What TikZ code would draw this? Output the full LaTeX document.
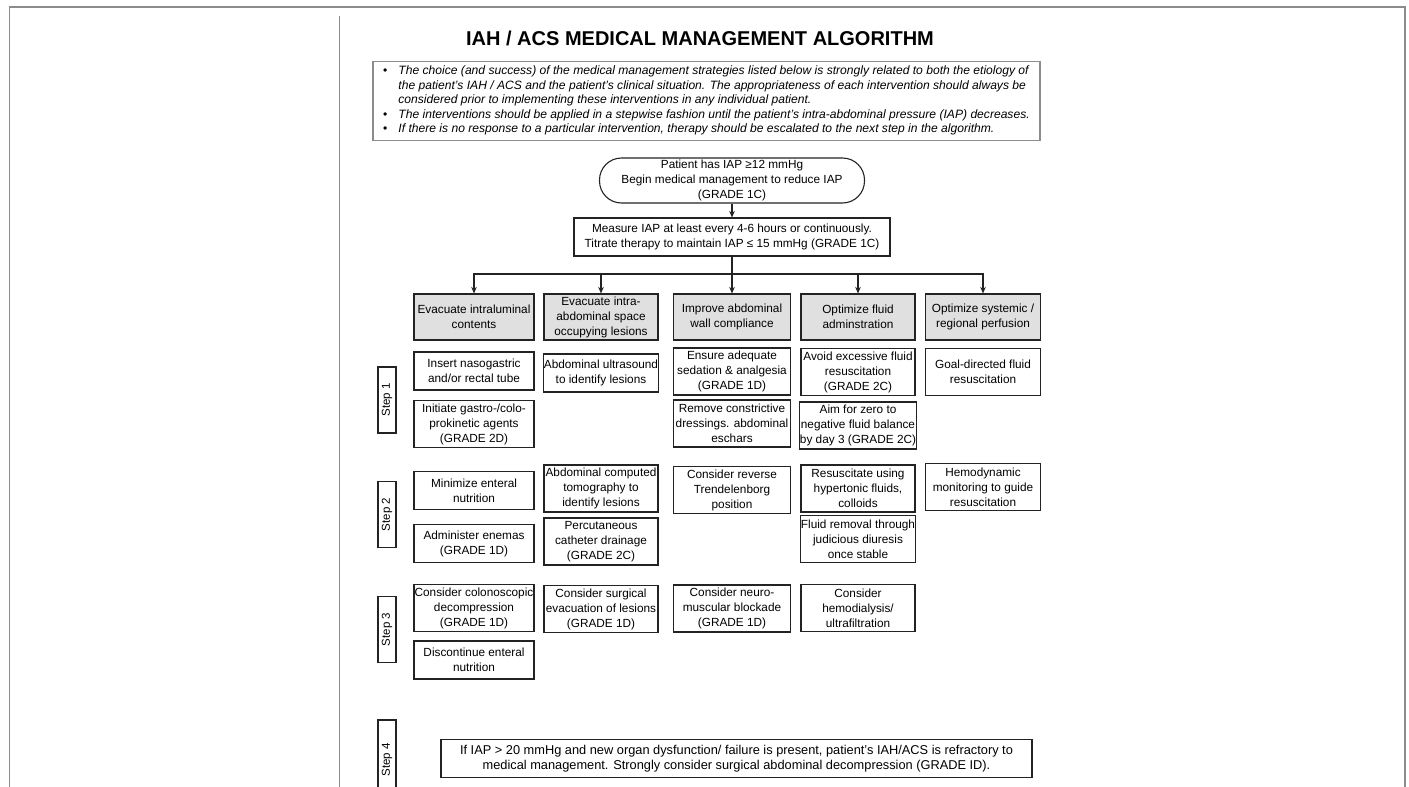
\documentclass[tikz,border=0pt]{standalone}
\usepackage{fontspec}
\setmainfont{Liberation Sans}
\usetikzlibrary{arrows.meta}
\definecolor{HeadGray}{RGB}{224,224,224}
\definecolor{FrameGray}{RGB}{140,140,140}
\definecolor{InkBlack}{RGB}{35,35,35}

\begin{document}
\begin{tikzpicture}[x=1pt, y=-1pt, >={Stealth[length=6.5pt,width=5.5pt]},
    font=\fontsize{11.8}{15}\selectfont,
    box/.style={draw=InkBlack, line width=1.1pt, align=center, inner sep=0.5pt},
    head/.style={box, fill=HeadGray, minimum height=46pt},
    two/.style={minimum height=38pt},
    three/.style={minimum height=47pt},
    colA/.style={minimum width=120pt},
    colB/.style={minimum width=114pt},
    colC/.style={minimum width=117pt},
    colD/.style={minimum width=114pt},
    colE/.style={minimum width=115pt},
    steplabel/.style={draw=InkBlack, line width=1.1pt, rotate=90, minimum width=66pt,
        minimum height=18pt, inner sep=1pt, font=\fontsize{11.5}{13}\selectfont}]
    \useasboundingbox (0,0) rectangle (1409,787);

    % page frame
    \draw[FrameGray, line width=1.5pt] (9.5,800) -- (9.5,7) -- (1405,7) -- (1405,800);
    \draw[FrameGray, line width=1pt] (339,16) -- (339,800);

    % Title and notes
    \node[font=\fontsize{20}{23}\selectfont\bfseries] (title) at (700,38) {IAH / ACS MEDICAL MANAGEMENT ALGORITHM};
    \node[draw=FrameGray, line width=1.4pt, minimum width=667pt, inner xsep=10pt, inner ysep=3pt, align=left,
        font=\fontsize{12.1}{14.5}\selectfont\itshape] (notes) at (706.5,101) {%
        \begin{tabular}{@{}l@{\hspace{11pt}}l@{}}
        \upshape\textbullet & The choice (and success) of the medical management strategies listed below is strongly related to both the etiology of\\
        & the patient's IAH / ACS and the patient's clinical situation. The appropriateness of each intervention should always be\\
        & considered prior to implementing these interventions in any individual patient.\\
        \upshape\textbullet & The interventions should be applied in a stepwise fashion until the patient's intra-abdominal pressure (IAP) decreases.\\
        \upshape\textbullet & If there is no response to a particular intervention, therapy should be escalated to the next step in the algorithm.
        \end{tabular}};

    % Entry
    \node[box, rounded corners=22pt, minimum width=265pt, minimum height=45pt] (start) at (732,180.5)
        {Patient has IAP ≥12 mmHg\\Begin medical management to reduce IAP\\(GRADE 1C)};
    \node[box, minimum width=316pt, two] (measure) at (732,237)
        {Measure IAP at least every 4-6 hours or continuously.\\Titrate therapy to maintain IAP ≤ 15 mmHg (GRADE 1C)};
    \draw[->, line width=1.1pt, InkBlack] (start) -- (measure);

    % Column heads
    \node[head, colA] (hLumen) at (474,317) {Evacuate intraluminal\\contents};
    \node[head, colB] (hSpace) at (601,317) {Evacuate intra-\\abdominal space\\occupying lesions};
    \node[head, colC] (hWall) at (732,317) {Improve abdominal\\wall compliance};
    \node[head, colD] (hFluid) at (858,317) {Optimize fluid\\adminstration};
    \node[head, colE] (hPerf) at (983,317) {Optimize systemic /\\regional perfusion};

    \coordinate (bus) at (732,274);
    \draw[->, line width=1.1pt, InkBlack] (measure) -- (hWall);
    \foreach \h in {hLumen,hSpace,hFluid,hPerf}
        \draw[->, line width=1.1pt, InkBlack] (bus) -| (\h.north);

    % Step 1
    \node[steplabel] (step1) at (387,400) {Step 1};
    \node[box, colA, two] (tube) at (474,371) {Insert nasogastric\\and/or rectal tube};
    \node[box, colA, three] (prokin) at (474,424) {Initiate gastro-/colo-\\prokinetic agents\\(GRADE 2D)};
    \node[box, colB, two] (ultra) at (601,373) {Abdominal ultrasound\\to identify lesions};
    \node[box, colC, three] (sedation) at (732,371.5) {Ensure adequate\\sedation \& analgesia\\(GRADE 1D)};
    \node[box, colC, three] (dressing) at (732,423.5) {Remove constrictive\\dressings. abdominal\\eschars};
    \node[box, colD, three] (avoidfluid) at (858,372) {Avoid excessive fluid\\resuscitation\\(GRADE 2C)};
    \node[box, colD, three] (zerobal) at (858,425.5) {Aim for zero to\\negative fluid balance\\by day 3 (GRADE 2C)};
    \node[box, colE, three] (goaldir) at (983,372) {Goal-directed fluid\\resuscitation};

    % Step 2
    \node[steplabel] (step2) at (387,514.5) {Step 2};
    \node[box, colA, two] (enteral) at (474,490.5) {Minimize enteral\\nutrition};
    \node[box, colA, two] (enemas) at (474,543.5) {Administer enemas\\(GRADE 1D)};
    \node[box, colB, three] (ct) at (601,488.5) {Abdominal computed\\tomography to\\identify lesions};
    \node[box, colB, three] (drain) at (601,541.5) {Percutaneous\\catheter drainage\\(GRADE 2C)};
    \node[box, colC, three] (trend) at (732,490) {Consider reverse\\Trendelenborg\\position};
    \node[box, colD, three] (hypert) at (858,488.5) {Resuscitate using\\hypertonic fluids,\\colloids};
    \node[box, colD, three] (diuresis) at (858,539) {Fluid removal through\\judicious diuresis\\once stable};
    \node[box, colE, three] (hemomon) at (983,487) {Hemodynamic\\monitoring to guide\\resuscitation};

    % Step 3
    \node[steplabel] (step3) at (387,629.5) {Step 3};
    \node[box, colA, three] (colon) at (474,608) {Consider colonoscopic\\decompression\\(GRADE 1D)};
    \node[box, colA, two] (stopenteral) at (474,660) {Discontinue enteral\\nutrition};
    \node[box, colB, three] (surgevac) at (601,609) {Consider surgical\\evacuation of lesions\\(GRADE 1D)};
    \node[box, colC, three] (nmb) at (732,608.5) {Consider neuro-\\muscular blockade\\(GRADE 1D)};
    \node[box, colD, three] (dialysis) at (858,608) {Consider\\hemodialysis/\\ultrafiltration};

    % Step 4
    \node[steplabel, minimum width=80pt] (step4) at (387,760) {Step 4};
    \node[box, minimum width=591pt, two, font=\fontsize{12.8}{15.5}\selectfont] (refractory) at (736.5,758.5)
        {If IAP > 20 mmHg and new organ dysfunction/ failure is present, patient's IAH/ACS is refractory to\\medical management. Strongly consider surgical abdominal decompression (GRADE ID).};
\end{tikzpicture}
\end{document}
